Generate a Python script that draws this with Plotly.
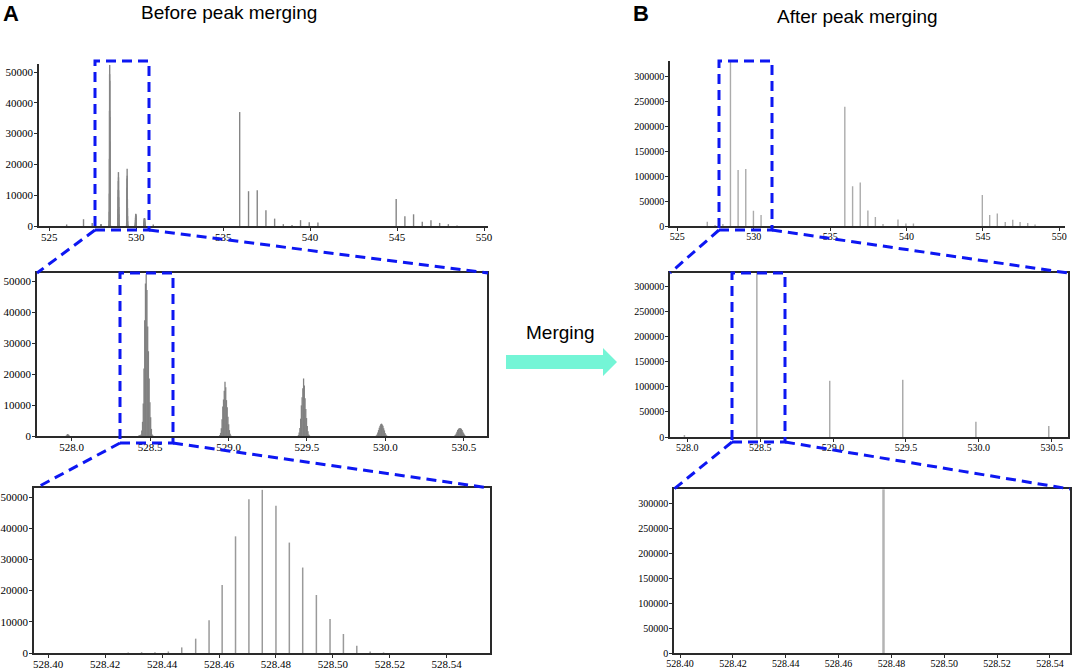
import plotly.graph_objects as go

# ---------------------------
# raw centroid data (before merging), m/z and intensity
# ---------------------------
raw_mz_528_0 = [527.966, 527.971, 527.975, 527.980, 527.985]
raw_int_528_0 = [200, 500, 650, 450, 200]

raw_mz_528_5 = [528.4281, 528.4328, 528.4375, 528.4422, 528.4469, 528.4518, 528.4565,
                528.4611, 528.4658, 528.4705, 528.4752, 528.4800, 528.4847, 528.4894,
                528.4942, 528.4990, 528.5037, 528.5084, 528.5131, 528.5178]
raw_int_528_5 = [200, 250, 250, 500, 1800, 4600, 10500, 21800, 37400, 49300, 52300,
                 47200, 35400, 27400, 18600, 10900, 6100, 2300, 500, 200]

raw_mz_529_0 = [528.9447, 528.9494, 528.9541, 528.9588, 528.9635, 528.9682, 528.9729,
                528.9776, 528.9823, 528.9870, 528.9917, 528.9964, 529.0011, 529.0058,
                529.0105, 529.0152]
raw_int_529_0 = [300, 1000, 2500, 5400, 9500, 11800, 14600, 17500, 15800, 11600, 9300,
                 6200, 3800, 1900, 700, 200]

raw_mz_529_5 = [529.4457, 529.4504, 529.4551, 529.4598, 529.4645, 529.4692, 529.4739,
                529.4786, 529.4833, 529.4880, 529.4927, 529.4974, 529.5021, 529.5068,
                529.5115, 529.5162]
raw_int_529_5 = [300, 1100, 2600, 5600, 9900, 12500, 15400, 18600, 16300, 12200, 8700,
                 5800, 3200, 1500, 500, 150]

raw_mz_530_0 = [529.9424, 529.9471, 529.9518, 529.9565, 529.9612, 529.9659, 529.9706,
                529.9753, 529.9800, 529.9847, 529.9894, 529.9941, 529.9988, 530.0035,
                530.0082]
raw_int_530_0 = [200, 500, 1100, 1900, 2700, 3300, 3800, 4000, 3700, 3300, 2500, 1800,
                 1000, 500, 200]

raw_mz_530_5 = [530.4424, 530.4471, 530.4518, 530.4565, 530.4612, 530.4659, 530.4706,
                530.4753, 530.4800, 530.4847, 530.4894, 530.4941, 530.4988, 530.5035,
                530.5082]
raw_int_530_5 = [150, 400, 800, 1400, 1900, 2300, 2500, 2600, 2500, 2300, 1900, 1400,
                 900, 500, 200]

# other clusters in the wide view (apex of each cluster)
wide_mz = [526.00, 526.97, 527.47, 530.98, 535.95, 536.46, 536.96, 537.46, 537.96,
           538.46, 538.96, 539.45, 539.95, 540.45, 544.95, 545.45, 545.95, 546.45,
           546.95, 547.45, 547.95, 548.45]
wide_int = [500, 2200, 1000, 500, 37000, 11300, 11600, 5100, 2400, 600, 300, 1900,
            1200, 1100, 8800, 3200, 3800, 1400, 1900, 1000, 600, 200]

# ---------------------------
# merged peaks (after merging)
# ---------------------------
merged_mz = [526.96, 527.47, 527.98, 528.477, 528.977, 529.478, 529.98, 530.48,
             535.96, 536.47, 536.97, 537.47, 537.96, 538.46, 539.44, 539.96, 540.45,
             544.96, 545.44, 545.94, 546.46, 546.95, 547.43, 547.93, 548.41]
merged_int = [8700, 2000, 4000, 328000, 112000, 114000, 30500, 21800,
              238500, 79500, 87000, 31000, 18000, 4000, 13000, 5000, 5000,
              62000, 22000, 25000, 8000, 12700, 8000, 6000, 3000]

W, H = 1072, 669
TICK_FONT = "Liberation Serif, Times New Roman, serif"
TEXT_FONT = "Liberation Sans, Arial, sans-serif"


def px(x):
    return x / W


def py(y):
    return 1 - y / H


def sticks(mz, inten):
    xs, ys = [], []
    for m, v in zip(mz, inten):
        xs += [m, m, None]
        ys += [0, v, None]
    return xs, ys


raw_mz = (raw_mz_528_0 + raw_mz_528_5 + raw_mz_529_0 + raw_mz_529_5
          + raw_mz_530_0 + raw_mz_530_5)
raw_int = (raw_int_528_0 + raw_int_528_5 + raw_int_529_0 + raw_int_529_5
           + raw_int_530_0 + raw_int_530_5)

fig = go.Figure()

rx, ry = sticks(raw_mz + wide_mz, raw_int + wide_int)
fig.add_trace(go.Scatter(x=rx, y=ry, mode="lines", xaxis="x", yaxis="y",
                         line=dict(color="#858585", width=1.4), hoverinfo="skip"))
rx, ry = sticks(raw_mz, raw_int)
fig.add_trace(go.Scatter(x=rx, y=ry, mode="lines", xaxis="x2", yaxis="y2",
                         line=dict(color="#808080", width=1.3), hoverinfo="skip"))
fig.add_trace(go.Scatter(x=rx, y=ry, mode="lines", xaxis="x3", yaxis="y3",
                         line=dict(color="#9a9a9a", width=1.5), hoverinfo="skip"))

mx, my = sticks(merged_mz, merged_int)
fig.add_trace(go.Scatter(x=mx, y=my, mode="lines", xaxis="x4", yaxis="y4",
                         line=dict(color="#ababab", width=1.4), hoverinfo="skip"))
fig.add_trace(go.Scatter(x=mx, y=my, mode="lines", xaxis="x5", yaxis="y5",
                         line=dict(color="#ababab", width=1.5), hoverinfo="skip"))
fig.add_trace(go.Scatter(x=mx, y=my, mode="lines", xaxis="x6", yaxis="y6",
                         line=dict(color="#b4b4b4", width=2.5), hoverinfo="skip"))

# ---------------------------
# axes
# ---------------------------
def ax(domain, rng, dtick, tick0, fmt, size, boxed, anchor, standoff):
    return dict(
        domain=domain, range=rng, dtick=dtick, tick0=tick0, tickformat=fmt,
        showline=True, linecolor="#2a2a2a", linewidth=1.5, mirror=boxed,
        ticks="outside", ticklen=3, tickwidth=1, tickcolor="#2a2a2a",
        ticklabelstandoff=standoff,
        showgrid=False, zeroline=False, automargin=False, anchor=anchor,
        tickfont=dict(family=TICK_FONT, size=size, color="black"),
    )


panels = [
    # left column (before merging)
    ((39, 488), (64, 226), [524.41, 550.23], [0, 52600], 5, 525, "d", 10000, 11, False),
    ((37, 487), (273, 436), [527.779, 530.648], [0, 52700], 0.5, 528, ".1f", 10000, 11, True),
    ((34, 490), (488, 653), [528.395, 528.5552], [0, 52900], 0.02, 528.4, ".2f", 10000, 11, True),
    # right column (after merging)
    ((670, 1065), (61, 226), [524.52, 550.37], [0, 330000], 5, 525, "d", 50000, 10, False),
    ((670, 1068), (273, 437), [527.881, 530.612], [0, 326800], 0.5, 528, ".1f", 50000, 10, True),
    ((674, 1070), (489, 653), [528.3977, 528.5476], [0, 328700], 0.02, 528.4, ".2f", 50000, 10, True),
]

layout_axes = {}
for i, (xs, ys, xr, yr, xd, x0, xf, yd, fs, boxed) in enumerate(panels, start=1):
    sfx = "" if i == 1 else str(i)
    layout_axes["xaxis" + sfx] = ax([px(xs[0]), px(xs[1])], xr, xd, x0, xf, fs, boxed, "y" + sfx, -3)
    layout_axes["yaxis" + sfx] = ax([py(ys[1]), py(ys[0])], yr, yd, 0, "d", fs, boxed, "x" + sfx, -1)

# ---------------------------
# zoom boxes and connectors
# ---------------------------
blue = dict(color="#0d17f2", width=3, dash="10px,6px")
shapes = []
boxes = [(95, 61, 149, 230), (120, 273, 173, 443), (719, 61, 772, 230), (732, 273, 785, 442)]
for x0, y0, x1, y1 in boxes:
    shapes.append(dict(type="rect", xref="paper", yref="paper",
                       x0=px(x0), x1=px(x1), y0=py(y1), y1=py(y0), line=blue))
links = [
    ((95, 230), (37, 273)), ((149, 230), (488, 273)),
    ((120, 443), (36, 488)), ((173, 443), (489, 488)),
    ((719, 230), (670, 273)), ((772, 230), (1068, 273)),
    ((732, 442), (674, 489)), ((785, 442), (1070, 489)),
]
for (xa, ya), (xb, yb) in links:
    shapes.append(dict(type="line", xref="paper", yref="paper",
                       x0=px(xa), y0=py(ya), x1=px(xb), y1=py(yb), line=blue))

# merging arrow
arrow_pts = [(506, 355), (603, 355), (603, 348), (617, 362), (603, 376), (603, 369), (506, 369)]
path = "M " + " L ".join(f"{px(a):.5f},{py(b):.5f}" for a, b in arrow_pts) + " Z"
shapes.append(dict(type="path", xref="paper", yref="paper", path=path,
                   fillcolor="#74f5d6", line=dict(width=0)))

# ---------------------------
# texts
# ---------------------------
def label(text, x, y, size, bold=False):
    return dict(text=f"<b>{text}</b>" if bold else text, x=px(x), y=py(y),
                xref="paper", yref="paper", showarrow=False,
                xanchor="center", yanchor="middle",
                font=dict(family=TEXT_FONT, size=size, color="black"))


annotations = [
    label("A", 11, 13, 22, bold=True),
    label("Before peak merging", 229, 12, 19),
    label("B", 641, 13, 22, bold=True),
    label("After peak merging", 857, 16, 19),
    label("Merging", 560, 332, 19),
]

fig.update_layout(
    width=W, height=H,
    margin=dict(l=0, r=0, t=0, b=0),
    template="none",
    plot_bgcolor="white", paper_bgcolor="white",
    showlegend=False,
    shapes=shapes,
    annotations=annotations,
    **layout_axes,
)

# page body margin would push the fixed-size figure off the window
fig.write_html("out.html",
               config={"displayModeBar": False},
               post_script="document.body.style.margin='0px';"
                           "document.body.style.overflow='hidden';")
